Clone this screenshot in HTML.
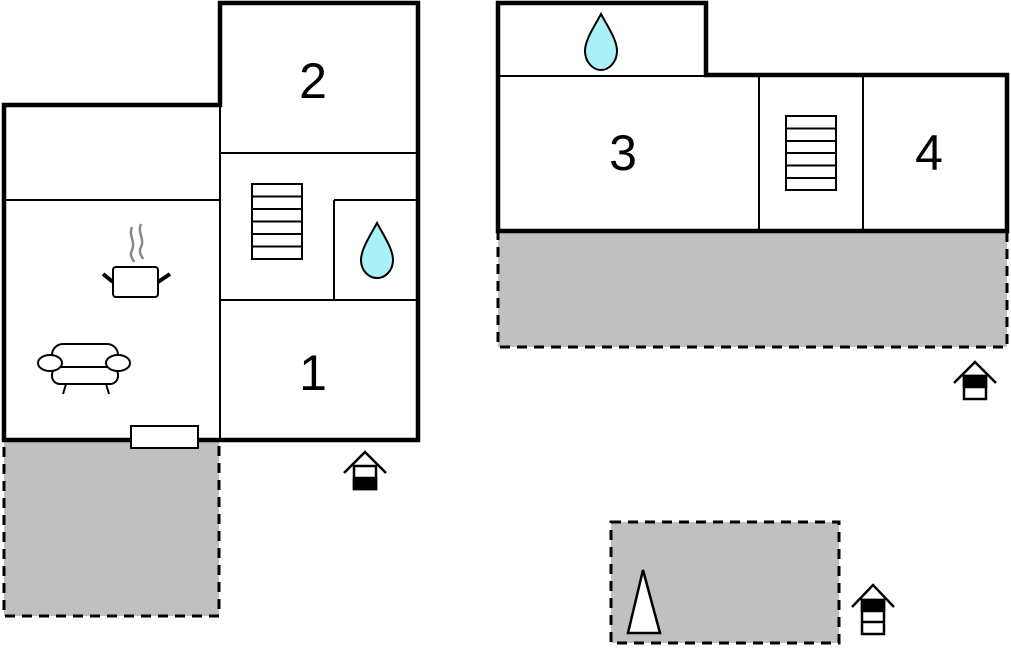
<!DOCTYPE html>
<html><head><style>html,body{margin:0;padding:0;background:#fff}svg{display:block}</style></head><body>
<svg width="1011" height="652" viewBox="0 0 1011 652" xmlns="http://www.w3.org/2000/svg" font-family="Liberation Sans, sans-serif">
<rect x="4" y="440" width="215" height="176" fill="#c0c0c0" stroke="#000" stroke-width="3" stroke-dasharray="10,7"/>
<rect x="498" y="231" width="509" height="116" fill="#c0c0c0" stroke="#000" stroke-width="3" stroke-dasharray="10,7"/>
<rect x="611" y="522" width="228" height="121" fill="#c0c0c0" stroke="#000" stroke-width="3" stroke-dasharray="10,7"/>
<polygon points="628,633 660,633 643,570" fill="#fff" stroke="#000" stroke-width="2.5"/>
<polygon points="4,105 220,105 220,3 418,3 418,440 4,440" fill="#fff" stroke="#000" stroke-width="4.5"/>
<g stroke="#000" stroke-width="2" fill="none">
<line x1="4" y1="200" x2="220" y2="200"/>
<line x1="220" y1="105" x2="220" y2="440"/>
<line x1="220" y1="153" x2="418" y2="153"/>
<line x1="220" y1="300" x2="418" y2="300"/>
<line x1="334" y1="200" x2="334" y2="300"/>
<line x1="334" y1="200" x2="418" y2="200"/>
</g>
<rect x="131" y="426" width="67" height="22" fill="#fff" stroke="#000" stroke-width="2"/>
<g stroke="#000" stroke-width="2" fill="#fff">
<rect x="252" y="184" width="50" height="75"/>
<line x1="252" y1="196.5" x2="302" y2="196.5"/><line x1="252" y1="209" x2="302" y2="209"/><line x1="252" y1="221.5" x2="302" y2="221.5"/><line x1="252" y1="234" x2="302" y2="234"/><line x1="252" y1="246.5" x2="302" y2="246.5"/>
</g>
<path d="M377,223 C370,236 361,249 361,260 C361,271 369,278 377,278 C385,278 393,271 393,260 C393,249 384,236 377,223 Z" fill="#aaf0f8" stroke="#000" stroke-width="2"/>
<g stroke="#000" fill="none">
<rect x="113" y="267" width="45" height="30" rx="3" stroke-width="2" fill="#fff"/>
<line x1="103" y1="274" x2="113" y2="282" stroke-width="4"/>
<line x1="158" y1="282" x2="170" y2="274" stroke-width="4"/>
<path d="M132,227 C128,235 136,242 132,250 C129,256 133,259 134,262" stroke="#888" stroke-width="2.5"/>
<path d="M141,224 C137,232 145,239 141,247 C138,253 142,256 143,259" stroke="#888" stroke-width="2.5"/>
</g>
<g stroke="#000" stroke-width="2" fill="#fff">
<rect x="52" y="344" width="66" height="26" rx="11"/>
<rect x="52" y="367" width="66" height="17" rx="8"/>
<ellipse cx="50" cy="363" rx="12" ry="8"/>
<ellipse cx="118" cy="363" rx="12" ry="8"/>
<line x1="66" y1="384" x2="63" y2="394"/><line x1="106" y1="384" x2="109" y2="394"/>
</g>
<polygon points="498,3 706,3 706,75 1007,75 1007,231 498,231" fill="#fff" stroke="#000" stroke-width="4.5"/>
<g stroke="#000" stroke-width="2">
<line x1="498" y1="76" x2="706" y2="76"/>
<line x1="759" y1="75" x2="759" y2="231"/>
<line x1="863" y1="75" x2="863" y2="231"/>
</g>
<g font-size="50" text-anchor="middle" fill="#000">
<text x="313" y="98">2</text>
<text x="313" y="390">1</text>
<text x="623" y="170">3</text>
<text x="929" y="170">4</text>
</g>
<g stroke="#000" stroke-width="2" fill="#fff">
<rect x="786" y="116" width="50" height="74"/>
<line x1="786" y1="128.5" x2="836" y2="128.5"/><line x1="786" y1="141" x2="836" y2="141"/><line x1="786" y1="153" x2="836" y2="153"/><line x1="786" y1="165.5" x2="836" y2="165.5"/><line x1="786" y1="178" x2="836" y2="178"/>
</g>
<path d="M601,14 C594,27 585,40 585,51 C585,62 593,70 601,70 C609,70 617,62 617,51 C617,40 608,27 601,14 Z" fill="#aaf0f8" stroke="#000" stroke-width="2"/>
<g stroke="#000" stroke-width="2.5" fill="none">
<polyline points="344,473 365,452 386,473"/>
<rect x="354" y="466" width="22" height="23" fill="#fff"/>
<rect x="354" y="478" width="22" height="11" fill="#000"/>
<polyline points="954,383 975,362 996,383"/>
<rect x="964" y="376" width="22" height="23" fill="#fff"/>
<rect x="964" y="376" width="22" height="11" fill="#000"/>
<polyline points="852,607 873,585 894,607"/>
<rect x="862" y="600" width="22" height="34" fill="#fff"/>
<rect x="862" y="600" width="22" height="11" fill="#000"/>
<line x1="862" y1="622" x2="884" y2="622"/>
</g>
</svg>
</body></html>
